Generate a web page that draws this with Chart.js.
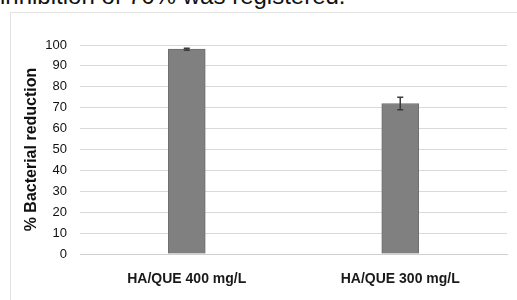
<!DOCTYPE html>
<html lang="en">
<head>
  <meta charset="UTF-8">
  <title>Bacterial reduction</title>
  <script src="https://cdn.jsdelivr.net/npm/chart.js"></script>
  <style>
    body { margin: 0; width: 517px; height: 300px; overflow: hidden; position: relative; background: #fff; font-family: "Liberation Sans", Arial, sans-serif; }
    #caption { position: absolute; left: 0; top: -16px; font-size: 24px; line-height: 24px; color: #111; white-space: nowrap; }
    #frame { position: absolute; left: 10px; top: 12px; width: 520px; height: 300px; border: 1px solid #e3e3e3; }
    #wrap { position: absolute; left: 0; top: 0; width: 517px; height: 300px; }
  </style>
</head>
<body>
  <div id="caption">inhibition of 70% was registered.</div>
  <div id="frame"></div>
  <div id="wrap"><canvas id="chart"></canvas></div>

  <script>
    const categories = ["HA/QUE 400 mg/L", "HA/QUE 300 mg/L"];
    const reduction = [98, 72];
    const errors = [0.5, 3];
    const yTicks = [0, 10, 20, 30, 40, 50, 60, 70, 80, 90, 100];

    // error bars drawn from the errors array through the y scale
    const errorBars = {
      id: "errorBars",
      afterDatasetsDraw(chart) {
        const ctx = chart.ctx;
        const y = chart.scales.y;
        const meta = chart.getDatasetMeta(0);
        ctx.save();
        ctx.strokeStyle = "#3a3a3a";
        ctx.lineWidth = 1.5;
        meta.data.forEach((bar, i) => {
          const top = y.getPixelForValue(reduction[i] + errors[i]);
          const bot = y.getPixelForValue(reduction[i] - errors[i]);
          ctx.beginPath();
          ctx.moveTo(bar.x, top);
          ctx.lineTo(bar.x, bot);
          ctx.moveTo(bar.x - 3, top);
          ctx.lineTo(bar.x + 3, top);
          ctx.moveTo(bar.x - 3, bot);
          ctx.lineTo(bar.x + 3, bot);
          ctx.stroke();
        });
        ctx.restore();
      }
    };

    new Chart(document.getElementById("chart"), {
      type: "bar",
      data: {
        labels: categories,
        datasets: [{
          data: reduction,
          backgroundColor: "#808080",
          borderColor: "#6e6e6e",
          borderWidth: 1,
          barThickness: 37
        }]
      },
      options: {
        responsive: true,
        maintainAspectRatio: false,
        animation: false,
        layout: { padding: { left: 10, right: 10, top: 45, bottom: 0 } },
        plugins: { legend: { display: false }, tooltip: { enabled: false } },
        scales: {
          x: {
            grid: { display: false },
            border: { color: "#d0d0d0" },
            ticks: { color: "#1a1a1a", font: { family: "Liberation Sans", size: 14, weight: "bold" }, padding: 9 },
            afterFit(s) { s.height = 46; }
          },
          y: {
            min: 0,
            max: 100,
            afterBuildTicks(s) { s.ticks = yTicks.map(v => ({ value: v })); },
            grid: { color: "#d9d9d9", drawTicks: false },
            border: { display: false },
            ticks: { color: "#111", font: { family: "Liberation Sans", size: 13 }, padding: 13 },
            title: {
              display: true,
              text: "% Bacterial reduction",
              color: "#111",
              font: { family: "Liberation Sans", size: 16, weight: "bold" },
              padding: { top: 12, bottom: 0 }
            },
            afterFit(s) { s.width = 70; }
          }
        }
      },
      plugins: [errorBars]
    });
  </script>
</body>
</html>
